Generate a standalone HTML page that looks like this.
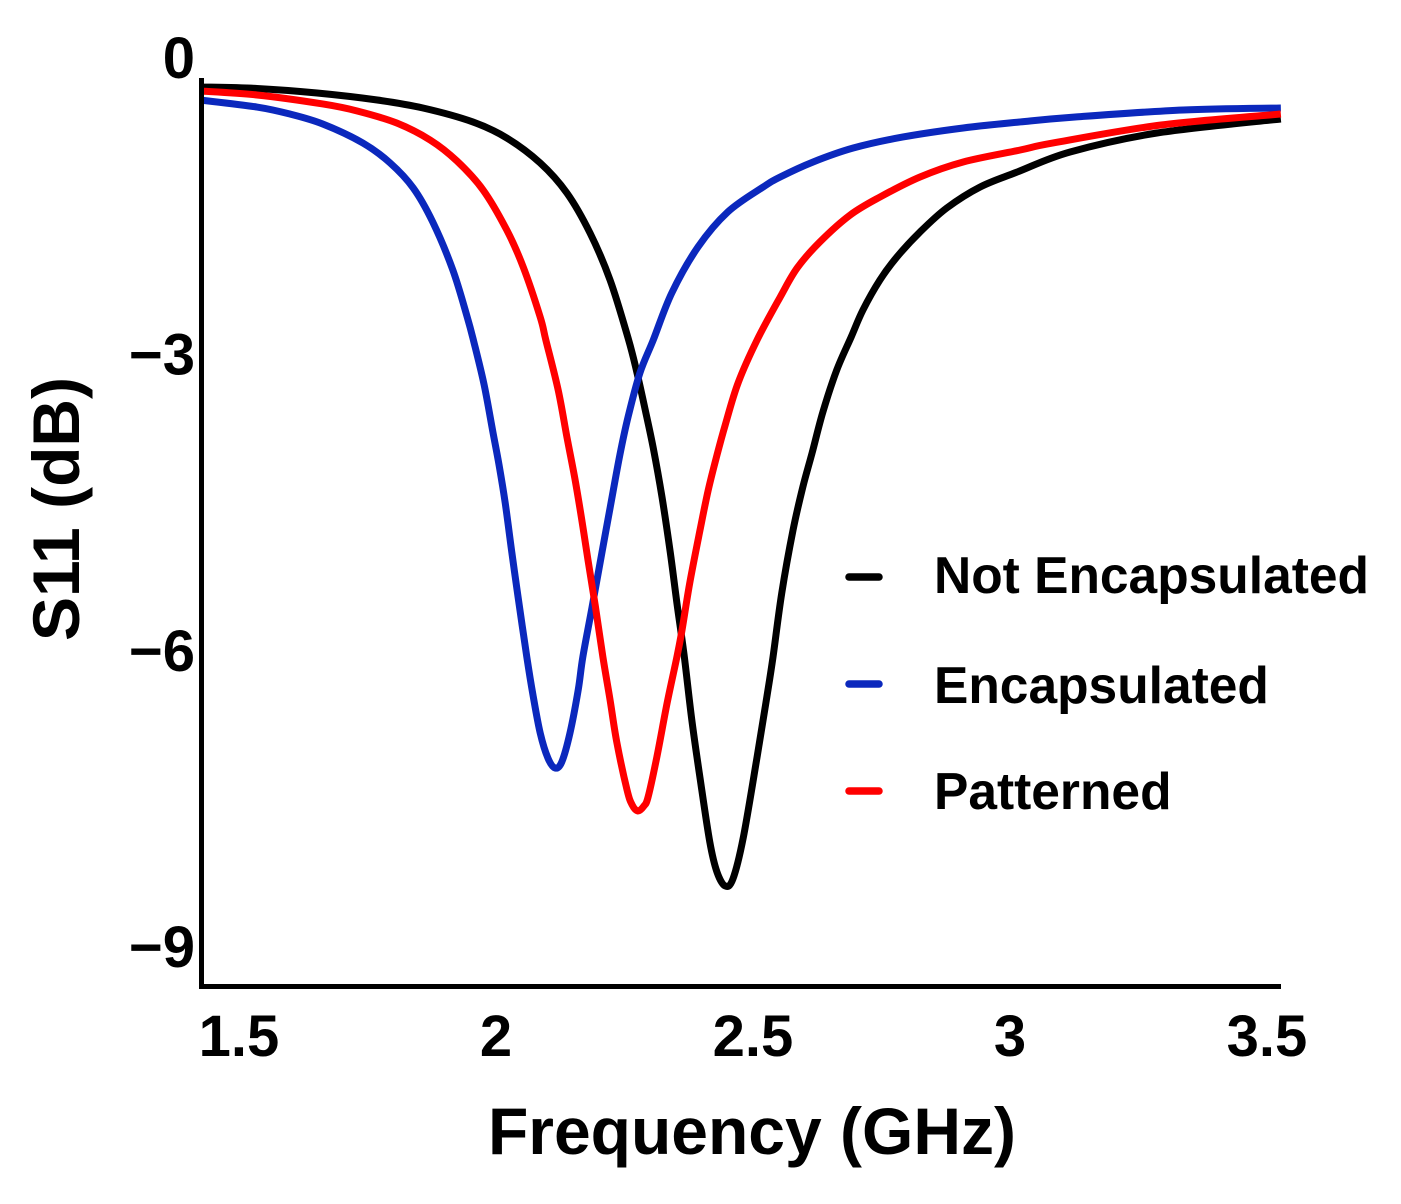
<!DOCTYPE html>
<html lang="en">
<head>
<meta charset="utf-8">
<title>S11 vs Frequency</title>
<style>
html,body{margin:0;padding:0;background:#fff;}
body{width:1401px;height:1204px;overflow:hidden;}
svg{display:block;}
text{font-family:"Liberation Sans",Arial,sans-serif;font-weight:bold;fill:#000;}
</style>
</head>
<body>
<svg id="chart" xmlns="http://www.w3.org/2000/svg" width="1401" height="1204" viewBox="0 0 1401 1204">
  <rect x="0" y="0" width="1401" height="1204" fill="#fff"/>
  <g id="series" fill="none" stroke-width="7" stroke-linejoin="round"></g>
  <rect x="199" y="78" width="5" height="911" fill="#000"/>
  <rect x="199" y="984" width="1082" height="5" fill="#000"/>
  <g id="x-ticks"></g>
  <g id="y-ticks"></g>
  <text x="752" y="1154" font-size="66" text-anchor="middle">Frequency (GHz)</text>
  <text transform="translate(79,509) rotate(-90)" font-size="66" text-anchor="middle">S11 (dB)</text>
  <g>
    <g>
      <line x1="849" y1="577" x2="879" y2="577" stroke="#000" stroke-width="7.5" stroke-linecap="round"/>
      <text x="934" y="593" font-size="51.5">Not Encapsulated</text>
    </g>
    <g>
      <line x1="849" y1="684" x2="879" y2="684" stroke="#0b28bd" stroke-width="7.5" stroke-linecap="round"/>
      <text x="934" y="703" font-size="51.5">Encapsulated</text>
    </g>
    <g>
      <line x1="849" y1="791" x2="879" y2="791" stroke="#ff0000" stroke-width="7.5" stroke-linecap="round"/>
      <text x="934" y="809" font-size="51.5">Patterned</text>
    </g>
  </g>
</svg>
<script>
var xTickValues = [1.5, 2, 2.5, 3, 3.5];
var xTickLabels = ["1.5", "2", "2.5", "3", "3.5"];
var yTickValues = [0, -3, -6, -9];
var yTickLabels = ["0", "\u22123", "\u22126", "\u22129"];

var notEncapsulatedFreq = [1.422,1.533,1.650,1.767,1.856,1.953,2.019,2.084,2.136,2.181,2.220,2.255,2.272,2.288,2.304,2.321,2.337,2.350,2.364,2.379,2.395,2.414,2.428,2.444,2.459,2.479,2.506,2.525,2.537,2.554,2.576,2.595,2.613,2.634,2.661,2.689,2.712,2.745,2.778,2.823,2.875,2.940,3.012,3.115,3.284,3.525];
var notEncapsulatedS11 = [-0.273,-0.288,-0.334,-0.405,-0.486,-0.627,-0.789,-1.042,-1.346,-1.751,-2.227,-2.814,-3.158,-3.532,-3.927,-4.423,-4.980,-5.496,-6.022,-6.680,-7.267,-7.915,-8.219,-8.360,-8.289,-7.874,-7.055,-6.447,-6.042,-5.395,-4.757,-4.322,-3.978,-3.563,-3.138,-2.804,-2.530,-2.227,-1.994,-1.741,-1.498,-1.285,-1.134,-0.931,-0.739,-0.597];

var encapsulatedFreq = [1.422,1.533,1.597,1.661,1.739,1.792,1.837,1.875,1.914,1.942,1.955,1.975,1.992,2.004,2.016,2.029,2.041,2.058,2.070,2.084,2.099,2.113,2.126,2.142,2.158,2.167,2.185,2.204,2.220,2.239,2.255,2.278,2.304,2.340,2.391,2.449,2.518,2.551,2.615,2.693,2.790,2.907,3.018,3.125,3.335,3.525];
var encapsulatedS11 = [-0.405,-0.476,-0.547,-0.648,-0.840,-1.042,-1.295,-1.640,-2.125,-2.601,-2.854,-3.289,-3.765,-4.099,-4.484,-4.990,-5.435,-6.042,-6.427,-6.811,-7.065,-7.166,-7.105,-6.811,-6.376,-6.042,-5.536,-4.990,-4.534,-3.998,-3.613,-3.168,-2.834,-2.358,-1.893,-1.538,-1.285,-1.184,-1.032,-0.891,-0.779,-0.688,-0.627,-0.577,-0.506,-0.486];

var patternedFreq = [1.422,1.533,1.661,1.728,1.805,1.870,1.922,1.973,2.019,2.051,2.084,2.095,2.119,2.136,2.152,2.165,2.177,2.191,2.206,2.220,2.233,2.253,2.263,2.274,2.286,2.294,2.311,2.331,2.350,2.360,2.375,2.395,2.411,2.428,2.444,2.469,2.506,2.551,2.584,2.628,2.687,2.745,2.823,2.907,3.018,3.082,3.292,3.525];
var patternedS11 = [-0.314,-0.354,-0.445,-0.516,-0.638,-0.810,-1.022,-1.316,-1.721,-2.095,-2.601,-2.834,-3.340,-3.816,-4.251,-4.656,-5.061,-5.516,-6.042,-6.478,-6.903,-7.388,-7.540,-7.601,-7.550,-7.459,-7.055,-6.508,-6.042,-5.769,-5.293,-4.757,-4.352,-3.998,-3.694,-3.269,-2.834,-2.399,-2.105,-1.842,-1.569,-1.387,-1.184,-1.032,-0.911,-0.840,-0.658,-0.547];

var SVG_NS = "http://www.w3.org/2000/svg";

function xScale(f) { return 240 + (f - 1.5) * 514; }
function yScale(v) { return 60 - v * 98.8; }

function buildPath(freqs, vals) {
  var pts = [];
  for (var i = 0; i < freqs.length; i++) {
    pts.push([xScale(freqs[i]), yScale(vals[i])]);
  }
  var d = "M" + pts[0][0].toFixed(2) + " " + pts[0][1].toFixed(2);
  for (var j = 0; j < pts.length - 1; j++) {
    var p0 = pts[Math.max(j - 1, 0)];
    var p1 = pts[j];
    var p2 = pts[j + 1];
    var p3 = pts[Math.min(j + 2, pts.length - 1)];
    var c1x = p1[0] + (p2[0] - p0[0]) / 6;
    var c1y = p1[1] + (p2[1] - p0[1]) / 6;
    var c2x = p2[0] - (p3[0] - p1[0]) / 6;
    var c2y = p2[1] - (p3[1] - p1[1]) / 6;
    d += "C" + c1x.toFixed(2) + " " + c1y.toFixed(2) + " " + c2x.toFixed(2) + " " + c2y.toFixed(2) + " " + p2[0].toFixed(2) + " " + p2[1].toFixed(2);
  }
  return d;
}

var seriesGroup = document.getElementById("series");

var lineBlack = document.createElementNS(SVG_NS, "path");
lineBlack.setAttribute("d", buildPath(notEncapsulatedFreq, notEncapsulatedS11));
lineBlack.setAttribute("stroke", "#000000");


seriesGroup.appendChild(lineBlack);

var lineBlue = document.createElementNS(SVG_NS, "path");
lineBlue.setAttribute("d", buildPath(encapsulatedFreq, encapsulatedS11));
lineBlue.setAttribute("stroke", "#0b28bd");


seriesGroup.appendChild(lineBlue);

var lineRed = document.createElementNS(SVG_NS, "path");
lineRed.setAttribute("d", buildPath(patternedFreq, patternedS11));
lineRed.setAttribute("stroke", "#ff0000");


seriesGroup.appendChild(lineRed);

var xTickGroup = document.getElementById("x-ticks");
xTickValues.forEach(function (val, i) {
  var t = document.createElementNS(SVG_NS, "text");
  t.setAttribute("x", xScale(val) - 1);
  t.setAttribute("y", 1056);
  t.setAttribute("font-size", "58");
  t.setAttribute("text-anchor", "middle");
  
  
  t.textContent = xTickLabels[i];
  xTickGroup.appendChild(t);
});

var yTickGroup = document.getElementById("y-ticks");
yTickValues.forEach(function (val, i) {
  var t = document.createElementNS(SVG_NS, "text");
  t.setAttribute("x", 195);
  t.setAttribute("y", yScale(val) + 18);
  t.setAttribute("font-size", "58");
  t.setAttribute("text-anchor", "end");
  
  
  t.textContent = yTickLabels[i];
  yTickGroup.appendChild(t);
});
</script>
</body>
</html>
